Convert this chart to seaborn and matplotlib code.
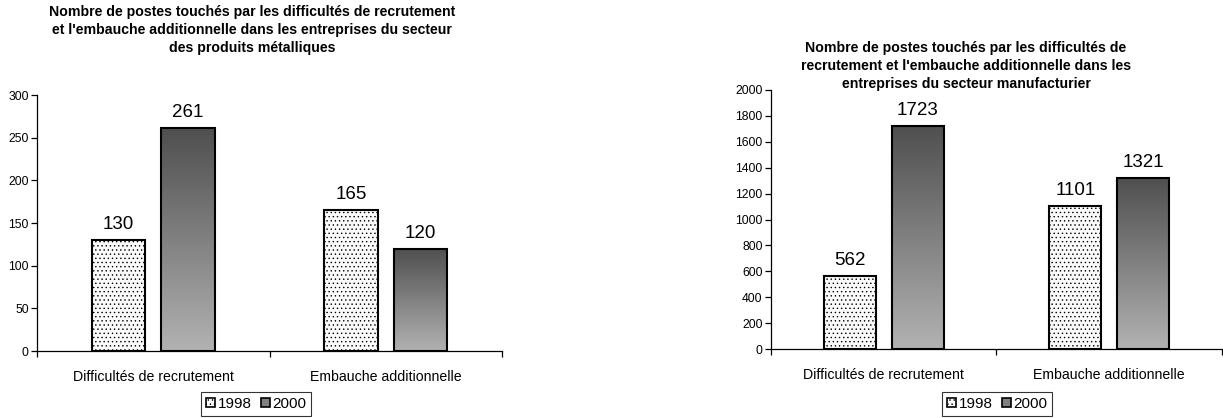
import numpy as np
import pandas as pd
import matplotlib
matplotlib.use("Agg")
import matplotlib.pyplot as plt
import seaborn as sns
from matplotlib.patches import Patch
from matplotlib.colors import LinearSegmentedColormap

# Données
categories = ["Difficultés de recrutement", "Embauche additionnelle"]
years = ["1998", "2000"]
metal_1998 = [130, 165]
metal_2000 = [261, 120]
manuf_1998 = [562, 1101]
manuf_2000 = [1723, 1321]

title_metal = ("Nombre de postes touchés par les difficultés de recrutement\n"
               "et l'embauche additionnelle dans les entreprises du secteur\n"
               "des produits métalliques")
title_manuf = ("Nombre de postes touchés par les difficultés de\n"
               "recrutement et l'embauche additionnelle dans les\n"
               "entreprises du secteur manufacturier")

sns.set_theme(style="white")
plt.rcParams['font.family'] = ['Liberation Sans', 'DejaVu Sans']
plt.rcParams['hatch.color'] = '#b4b4b4'
plt.rcParams['hatch.linewidth'] = 0.5
for k in ('text.color', 'axes.labelcolor', 'xtick.color', 'ytick.color'):
    plt.rcParams[k] = 'black'

grad_cmap = LinearSegmentedColormap.from_list("grad", ["#b2b2b2", "#4f4f4f"])


def make_df(v1998, v2000):
    rows = []
    for cat, a, b in zip(categories, v1998, v2000):
        rows.append({"categorie": cat, "annee": years[0], "postes": a})
        rows.append({"categorie": cat, "annee": years[1], "postes": b})
    return pd.DataFrame(rows)


def draw_panel(ax, df, ymax, ystep):
    sns.barplot(data=df, x="categorie", y="postes", hue="annee",
                hue_order=years, width=0.6, gap=0.23, ax=ax,
                edgecolor="black", linewidth=1.5, legend=False)

    bars_1998 = ax.containers[0]
    bars_2000 = ax.containers[1]
    for p in bars_1998:
        p.set_facecolor("#fafafa")
        p.set_hatch("....")
    for p in bars_2000:
        p.set_facecolor("none")
        x0, y0 = p.get_x(), p.get_y()
        w, h = p.get_width(), p.get_height()
        grad = np.linspace(0, 1, 256).reshape(-1, 1)
        im = ax.imshow(grad, cmap=grad_cmap, origin="lower", aspect="auto",
                       extent=[x0, x0 + w, y0, y0 + h],
                       zorder=p.get_zorder() - 0.1)
        im.set_clip_path(p)
    ax.set_xlim(-0.5, 1.5)
    ax.set_ylim(0, ymax)
    ax.set_yticks(np.arange(0, ymax + 1, ystep))

    for cont in ax.containers:
        ax.bar_label(cont, fmt="%d", padding=5, fontsize=13.5)

    sns.despine(ax=ax)
    for side in ("left", "bottom"):
        ax.spines[side].set_color("black")
        ax.spines[side].set_linewidth(0.9)
    ax.tick_params(axis="y", which="major", left=True, length=4, width=0.9,
                   labelsize=8.8, pad=2, color="black")
    ax.tick_params(axis="x", which="major", length=0, labelsize=10.2, pad=14)
    ax.set_xticks([-0.5, 0.5, 1.5], minor=True)
    ax.tick_params(axis="x", which="minor", bottom=True, length=4, width=0.9,
                   color="black")
    ax.set_xlabel("")
    ax.set_ylabel("")


fig = plt.figure(figsize=(12.23, 4.18), dpi=100)
W, H = 1223, 418
ax1 = fig.add_axes([37 / W, 1 - 351 / H, 465 / W, 256 / H])
ax2 = fig.add_axes([771 / W, 1 - 349 / H, 451 / W, 259 / H])

draw_panel(ax1, make_df(metal_1998, metal_2000), 300, 50)
draw_panel(ax2, make_df(manuf_1998, manuf_2000), 2000, 200)

fig.text(252 / W, 1 - 5 / H, title_metal, ha="center", va="top",
         fontsize=10.2, fontweight="bold", linespacing=1.36)
fig.text(966 / W, 1 - 41 / H, title_manuf, ha="center", va="top",
         fontsize=10.2, fontweight="bold", linespacing=1.36)

handles = [Patch(facecolor="#fafafa", edgecolor="black", hatch="....", linewidth=1.2),
           Patch(facecolor="#808080", edgecolor="black", linewidth=1.2)]
for cx in (256, 997):
    leg = fig.legend(handles, years, loc="center", ncol=2,
                     bbox_to_anchor=(cx / W, 1 - 404 / H), fontsize=11,
                     frameon=True, fancybox=False, handlelength=0.6,
                     handleheight=0.6, handletextpad=0.15, columnspacing=0.6,
                     borderpad=0.3, borderaxespad=0)
    leg.get_frame().set_edgecolor("black")
    leg.get_frame().set_linewidth(0.8)

fig.savefig("out.png", dpi=100)
